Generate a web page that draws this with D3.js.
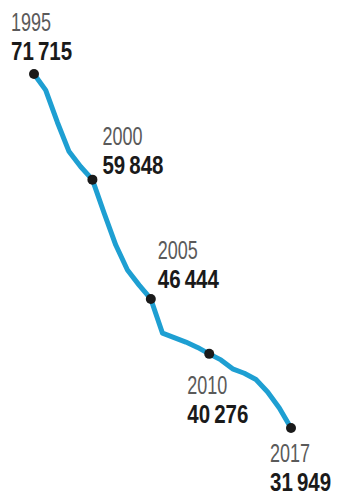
<!DOCTYPE html>
<html>
    <head>
        <meta charset="utf-8">
        <title>1995-2017</title>
        <style>
body {
    margin: 0;
    background-color: #fff;
}

svg {
    display: block;
}

.trend {
    fill: none;
    stroke: #1e9fd2;
    stroke-width: 5;
    stroke-linejoin: round;
    stroke-linecap: round;
}

.dot {
    fill: #1a1a1a;
}

.year {
    font-family: 'Liberation Sans', sans-serif;
    font-size: 25px;
    fill: #5a5a5a;
}

.value {
    font-family: 'Liberation Sans', sans-serif;
    font-size: 25px;
    font-weight: bold;
    fill: #1a1a1a;
}
        </style>
        <script src="https://cdn.jsdelivr.net/npm/d3@7"></script>
    </head>
    <body>
        <script>
// yearly totals (labelled years are exact)
var years = [1995, 1996, 1997, 1998, 1999, 2000, 2001, 2002, 2003, 2004, 2005,
             2006, 2007, 2008, 2009, 2010, 2011, 2012, 2013, 2014, 2015, 2016, 2017];
var values = [71715, 69900, 66300, 63000, 61300, 59848, 56100, 52500, 49700, 48000, 46444,
              42600, 42100, 41600, 41000, 40276, 39600, 38600, 38100, 37400, 36000, 34200, 31949];
var labelYears = [1995, 2000, 2005, 2010, 2017];

var width = 340,
    height = 496;

var svg = d3.select('body')
    .append('svg')
    .attr('width', width)
    .attr('height', height);

var x = d3.scaleLinear()
    .domain([1995, 2017])
    .range([34, 291]);

var y = d3.scaleLinear()
    .domain([d3.min(values), d3.max(values)])
    .range([428, 74]);

var data = years.map(function (yr, i) {
    return { year: yr, value: values[i] };
});

var line = d3.line()
    .x(function (d) { return x(d.year); })
    .y(function (d) { return y(d.value); });

svg.append('path')
    .datum(data)
    .attr('class', 'trend')
    .attr('d', line);

var marked = data.filter(function (d) {
    return labelYears.indexOf(d.year) > -1;
});

svg.selectAll('.dot')
    .data(marked)
    .enter()
    .append('circle')
    .attr('class', 'dot')
    .attr('cx', function (d) { return x(d.year); })
    .attr('cy', function (d) { return y(d.value); })
    .attr('r', 5);

// where each label block sits relative to its dot
var placement = {
    1995: { dx: -23, dy: -43 },
    2000: { dx: 10, dy: -35 },
    2005: { dx: 7, dy: -40 },
    2010: { dx: -22, dy: 40 },
    2017: { dx: -21, dy: 34 }
};

// thin space as thousands separator
var fmt = d3.formatLocale({ decimal: ',', thousands: '\u2009', grouping: [3], currency: ['', ''] }).format(',');

var labels = svg.selectAll('.label')
    .data(marked)
    .enter()
    .append('g')
    .attr('class', 'label')
    .attr('transform', function (d) {
        var p = placement[d.year];
        return 'translate(' + (x(d.year) + p.dx) + ',' + (y(d.value) + p.dy) + ')';
    });

// the original face is a condensed one, so squeeze horizontally
labels.append('text')
    .attr('class', 'year')
    .attr('transform', 'scale(0.72,1)')
    .text(function (d) { return d.year; });

labels.append('text')
    .attr('class', 'value')
    .attr('transform', 'translate(0,29) scale(0.82,1)')
    .text(function (d) { return fmt(d.value); });
        </script>
    </body>
</html>
